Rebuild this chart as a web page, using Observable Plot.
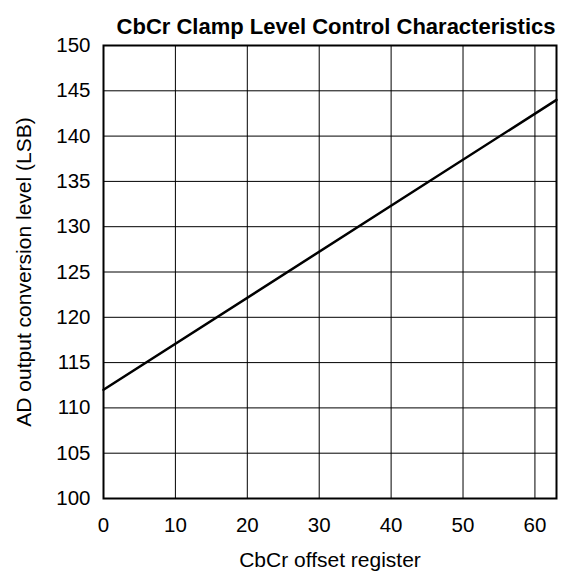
<!DOCTYPE html>
<html><head><meta charset="utf-8">
<script src="https://cdn.jsdelivr.net/npm/d3@7"></script>
<script src="https://cdn.jsdelivr.net/npm/@observablehq/plot@0.6"></script>
<style>body{margin:0;background:#fff;} svg{font-family:"Liberation Sans",Arial,sans-serif;}</style>
</head><body><div id="chart"></div>
<script>
const registerValues = [0, 63];
const levelValues = [112, 144];
const xTicks = [0, 10, 20, 30, 40, 50, 60];
const yTicks = [100, 105, 110, 115, 120, 125, 130, 135, 140, 145, 150];
const title = "CbCr Clamp Level Control Characteristics";
const xLabel = "CbCr offset register";
const yLabel = "AD output conversion level (LSB)";

const data = registerValues.map((x, i) => ({x, y: levelValues[i]}));

const chart = Plot.plot({
  width: 584, height: 575,
  marginLeft: 103, marginRight: 28, marginTop: 45, marginBottom: 77,
  style: {fontSize: "20px", fontFamily: "Liberation Sans, Arial, sans-serif", color: "#000", background: "#fff"},
  x: {domain: [0, 63], label: null},
  y: {domain: [100, 150], label: null},
  marks: [
    Plot.gridX(xTicks, {stroke: "#000", strokeOpacity: 1, strokeWidth: 1}),
    Plot.gridY(yTicks, {stroke: "#000", strokeOpacity: 1, strokeWidth: 1}),
    Plot.frame({stroke: "#000", strokeWidth: 2}),
    Plot.line(data, {x: "x", y: "y", stroke: "#000", strokeWidth: 2.5}),
    Plot.axisX({ticks: xTicks, tickSize: 0, tickPadding: 19, fontSize: 20.5, label: null}),
    Plot.axisY({ticks: yTicks, tickSize: 0, tickPadding: 13, fontSize: 20.5, label: null}),
    Plot.text([title], {frameAnchor: "top-right", textAnchor: "end", dx: -1, dy: -27, fontSize: 22, fontWeight: "bold", fill: "#000"}),
    Plot.text([xLabel], {frameAnchor: "bottom", dy: 68, fontSize: 21, fill: "#000"}),
    Plot.text([yLabel], {frameAnchor: "left", textAnchor: "middle", dx: -79, rotate: -90, fontSize: 21, fill: "#000"})
  ]
});
document.getElementById("chart").appendChild(chart);
</script></body></html>
